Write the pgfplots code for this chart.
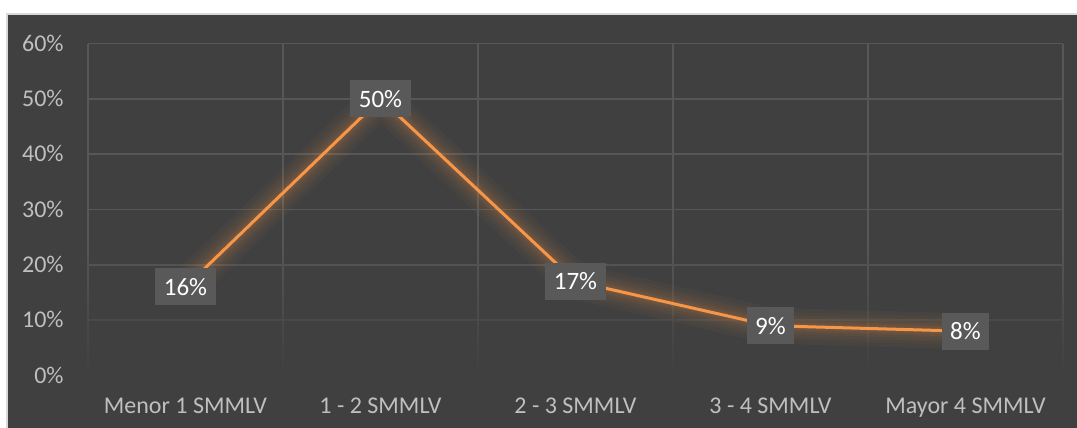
\documentclass[border=0pt]{standalone}
\usepackage{fontspec}
\setmainfont{Carlito}
\usepackage{pgfplots}
\pgfplotsset{compat=1.18}
\usetikzlibrary{fadings}

\definecolor{chartbg}{HTML}{404040}
\definecolor{gridc}{HTML}{575757}
\definecolor{ticktext}{HTML}{BFBFBF}
\definecolor{lineor}{HTML}{F79646}
\definecolor{labelbox}{HTML}{595959}
\definecolor{framec}{HTML}{D9D9D9}

% share of people by income bracket (in SMMLV)
\pgfplotstableread{
x  y
0  16
1  50
2  17
3  9
4  8
}\incomedata

\begin{document}
\begin{tikzpicture}
\useasboundingbox (0,0) rectangle (538.5pt,214pt);
\fill[white] (0,0) rectangle (538.5pt,214pt);
\fill[chartbg] (3.5pt,0) rectangle (538.5pt,207pt);
\draw[framec, line width=0.7pt] (3.5pt,0) -- (3.5pt,207pt) -- (538.5pt,207pt);
\begin{axis}[
  at={(44pt,26.25pt)}, anchor=south west,
  scale only axis, width=487.5pt, height=166pt,
  xmin=-0.5, xmax=4.5, ymin=0, ymax=60,
  clip=false,
  axis line style={draw=none},
  major tick length=0pt, minor tick length=0pt,
  tick style={draw=none},
  xtick={0,1,2,3,4},
  xticklabels={Menor 1 SMMLV, 1 - 2 SMMLV, 2 - 3 SMMLV, 3 - 4 SMMLV, Mayor 4 SMMLV},
  minor xtick={-0.5,0.5,1.5,2.5,3.5,4.5},
  xminorgrids=true, xmajorgrids=false,
  ytick={0,10,...,60},
  ymajorgrids=true,
  major grid style={gridc, line width=0.7pt},
  minor grid style={gridc, line width=0.7pt},
  yticklabel={\pgfmathprintnumber{\tick}\%},
  /pgf/number format/assume math mode=true,
  tick label style={font=\fontsize{12}{14}\selectfont, text=ticktext, inner sep=0pt},
  yticklabel style={anchor=base east, xshift=-12pt, yshift=-3.8pt},
  xticklabel style={anchor=base, yshift=-18.9pt},
]
% gridlines fade out towards the bottom of the plot area
\fill[chartbg, path fading=north] (axis cs:-0.53,-0.6) rectangle (axis cs:4.53,24);

% soft orange glow under the line
\addplot[lineor, opacity=0.035, line width=18pt, line join=round, line cap=round] table[x=x,y=y] {\incomedata};
\addplot[lineor, opacity=0.04, line width=14pt, line join=round, line cap=round] table[x=x,y=y] {\incomedata};
\addplot[lineor, opacity=0.045, line width=11pt, line join=round, line cap=round] table[x=x,y=y] {\incomedata};
\addplot[lineor, opacity=0.05, line width=8pt, line join=round, line cap=round] table[x=x,y=y] {\incomedata};
\addplot[lineor, opacity=0.06, line width=5.5pt, line join=round, line cap=round] table[x=x,y=y] {\incomedata};
\addplot[lineor, opacity=0.07, line width=3.5pt, line join=round, line cap=round] table[x=x,y=y] {\incomedata};

% main series with value labels (padding kept by invisible rules)
\addplot[lineor, line width=1.5pt, line join=round,
  nodes near coords={\rule{4.2pt}{0pt}\pgfmathprintnumber{\pgfplotspointmeta}\%\rule{4.2pt}{0pt}},
  every node near coord/.append style={anchor=center, fill=labelbox, text=white,
    font=\fontsize{12.5}{14}\selectfont, inner sep=0pt, minimum height=18.5pt},
] table[x=x,y=y] {\incomedata};
\end{axis}
\end{tikzpicture}
\end{document}
